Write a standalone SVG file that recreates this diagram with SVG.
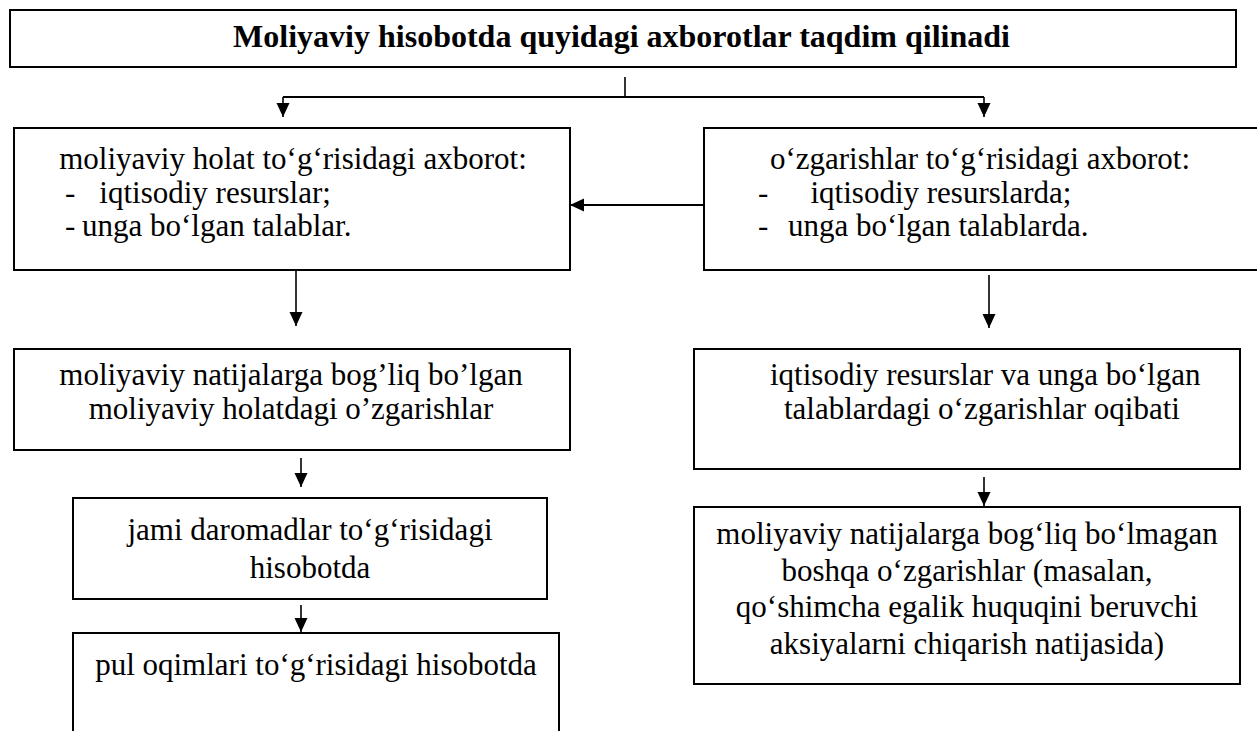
<svg xmlns="http://www.w3.org/2000/svg" width="1257" height="731" viewBox="0 0 1257 731">
<style>
.box{fill:#fff;stroke:#000;stroke-width:2}
.ln{fill:none;stroke:#000;stroke-width:1.6}
</style>
<defs>
<marker id="ah" markerUnits="userSpaceOnUse" markerWidth="16" markerHeight="14" refX="14" refY="6.5" orient="auto">
<path d="M0,0 L14,6.5 L0,13 Z" fill="#000"/>
</marker>
</defs>
<rect width="1257" height="731" fill="#fff"/>
<g id="connectors">
<path class="ln" d="M625,77 V97"/>
<path class="ln" d="M283,97 H984" style="stroke-width:2"/>
<path class="ln" d="M283,97 V117" marker-end="url(#ah)"/>
<path class="ln" d="M984,97 V117" marker-end="url(#ah)"/>
<path class="ln" d="M704,205 H570" style="stroke-width:2" marker-end="url(#ah)"/>
<path class="ln" d="M296,270 V326" marker-end="url(#ah)"/>
<path class="ln" d="M989,275 V328" marker-end="url(#ah)"/>
<path class="ln" d="M301,458 V487" marker-end="url(#ah)"/>
<path class="ln" d="M301,605 V632" marker-end="url(#ah)"/>
<path class="ln" d="M984,477 V506" marker-end="url(#ah)"/>
</g>
<g id="title">
<rect class="box" x="10" y="10" width="1226" height="57"/>
<text font-family="Liberation Serif" font-size="32" font-weight="bold" text-anchor="middle" x="621.5" y="47">Moliyaviy hisobotda quyidagi axborotlar taqdim qilinadi</text>
</g>
<g id="node-holat" font-family="Liberation Serif" font-size="31">
<rect class="box" x="14" y="128" width="556" height="142"/>
<text text-anchor="middle" x="293" y="168.5">moliyaviy holat to‘g‘risidagi axborot:</text>
<text x="65" y="203">-</text>
<text x="99.3" y="203">iqtisodiy resurslar;</text>
<text x="65" y="236">-</text>
<text x="82" y="236">unga bo‘lgan talablar.</text>
</g>
<g id="node-ozgarishlar" font-family="Liberation Serif" font-size="31">
<rect class="box" x="704" y="128" width="570" height="142"/>
<text text-anchor="middle" x="980" y="168.5">o‘zgarishlar to‘g‘risidagi axborot:</text>
<text x="758" y="203">-</text>
<text x="810.5" y="203">iqtisodiy resurslarda;</text>
<text x="758" y="236">-</text>
<text x="788" y="236">unga bo‘lgan talablarda.</text>
</g>
<g id="node-natijalar" font-family="Liberation Serif" font-size="31">
<rect class="box" x="14" y="349" width="556" height="101"/>
<text text-anchor="middle" x="291" y="385">moliyaviy natijalarga bog’liq bo’lgan</text>
<text text-anchor="middle" x="291" y="419">moliyaviy holatdagi o’zgarishlar</text>
</g>
<g id="node-oqibat" font-family="Liberation Serif" font-size="31">
<rect class="box" x="694" y="349" width="546" height="120"/>
<text x="770" y="385">iqtisodiy resurslar va unga bo‘lgan</text>
<text x="784" y="419">talablardagi o‘zgarishlar oqibati</text>
</g>
<g id="node-daromadlar" font-family="Liberation Serif" font-size="31">
<rect class="box" x="73" y="498" width="474" height="101"/>
<text text-anchor="middle" x="310" y="540">jami daromadlar to‘g‘risidagi</text>
<text text-anchor="middle" x="310" y="578">hisobotda</text>
</g>
<g id="node-pul" font-family="Liberation Serif" font-size="31">
<rect class="box" x="73" y="633" width="486" height="120"/>
<text text-anchor="middle" x="316" y="675">pul oqimlari to‘g‘risidagi hisobotda</text>
</g>
<g id="node-boshqa" font-family="Liberation Serif" font-size="31">
<rect class="box" x="694" y="507" width="546" height="177"/>
<text text-anchor="middle" x="967" y="544">moliyaviy natijalarga bog‘liq bo‘lmagan</text>
<text text-anchor="middle" x="967" y="580.5">boshqa o‘zgarishlar (masalan,</text>
<text text-anchor="middle" x="967" y="617">qo‘shimcha egalik huquqini beruvchi</text>
<text text-anchor="middle" x="967" y="653.5">aksiyalarni chiqarish natijasida)</text>
</g>
</svg>
